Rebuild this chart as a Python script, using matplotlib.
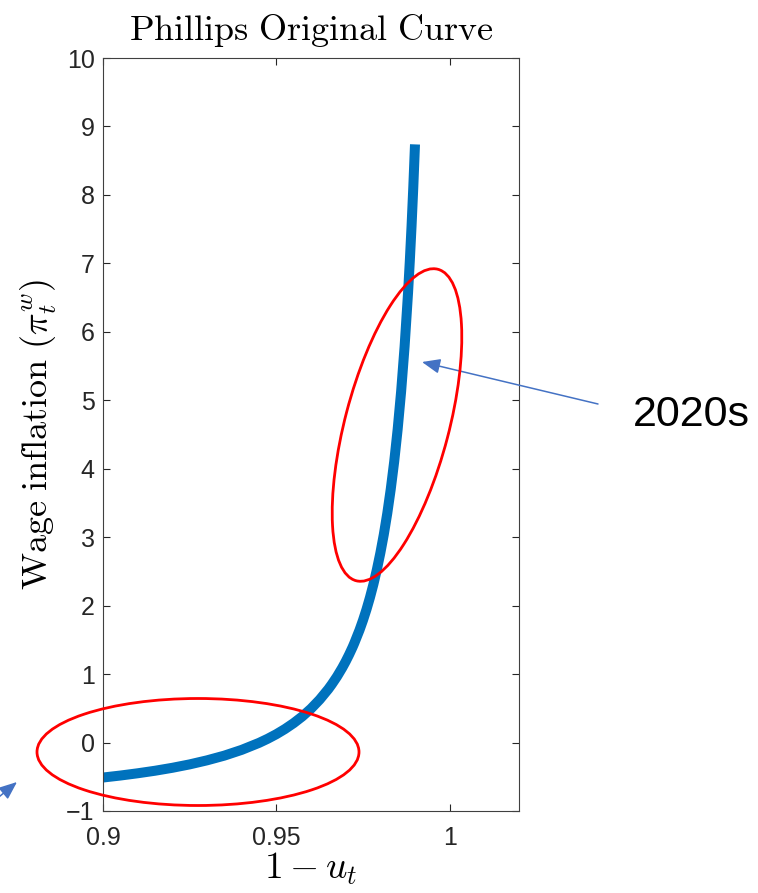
import matplotlib.pyplot as plt
from matplotlib.patches import Ellipse

plt.rcParams["mathtext.fontset"] = "cm"
plt.rcParams["font.family"] = ["Liberation Sans", "DejaVu Sans"]

# Phillips curve: x = 1 - u_t, y = wage inflation
employment = [0.900, 0.905, 0.910, 0.915, 0.920, 0.925, 0.930, 0.935, 0.940,
              0.945, 0.9475, 0.950, 0.9525, 0.955, 0.9575, 0.960, 0.9625, 0.965,
              0.966, 0.9675, 0.969, 0.970, 0.971, 0.972, 0.9725, 0.974, 0.975,
              0.976, 0.977, 0.978, 0.979, 0.980, 0.981, 0.982, 0.983, 0.984,
              0.985, 0.986, 0.987, 0.988, 0.9885, 0.989, 0.9895, 0.990]
wage_inflation = [-0.511, -0.482, -0.449, -0.412, -0.369, -0.319, -0.260, -0.191, -0.107,
                  -0.005, 0.055, 0.122, 0.198, 0.284, 0.382, 0.495, 0.627, 0.781,
                  0.851, 0.964, 1.091, 1.184, 1.285, 1.394, 1.453, 1.644, 1.787,
                  1.944, 2.118, 2.311, 2.526, 2.768, 3.039, 3.347, 3.700, 4.105,
                  4.577, 5.130, 5.786, 6.575, 7.032, 7.539, 8.104, 8.738]

x_ticks = [0.9, 0.95, 1.0]
x_tick_labels = ["0.9", "0.95", "1"]
y_ticks = list(range(-1, 11))

fig = plt.figure(figsize=(7.58, 8.93), dpi=100)
ax = fig.add_axes([103 / 758, 82 / 893, 416 / 758, 753 / 893])

ax.plot(employment, wage_inflation, color="#0072BD", lw=7.2,
        solid_capstyle="butt", solid_joinstyle="round")

ax.set_xlim(0.9, 1.02)
ax.set_ylim(-1, 10)
ax.set_xticks(x_ticks)
ax.set_xticklabels(x_tick_labels)
ax.set_yticks(y_ticks)
ax.tick_params(direction="in", top=True, right=True, length=5, width=0.8,
               labelsize=18, colors="#262626")
ax.tick_params(axis="x", pad=11)
ax.tick_params(axis="y", pad=6)
for s in ax.spines.values():
    s.set_color("#404040")
    s.set_linewidth(0.8)

ax.set_title(r"$\mathrm{Phillips\ Original\ Curve}$", fontsize=26, pad=13)
ax.set_xlabel(r"$1-u_t$", fontsize=27, labelpad=0)
ax.set_ylabel(r"$\mathrm{Wage\ inflation\ }(\pi_t^w)$", fontsize=26, labelpad=5)

# annotations drawn in figure inches (pixel / 100, y measured from bottom)
H = 893
def pt(x, y):
    return (x / 100, (H - y) / 100)

tr = fig.dpi_scale_trans
fig.patches.append(Ellipse(pt(198, 752), 3.22, 1.07, angle=0, fill=False,
                           edgecolor="red", lw=2, transform=tr))
fig.patches.append(Ellipse(pt(397, 425), 3.22, 1.04, angle=75.3, fill=False,
                           edgecolor="red", lw=2, transform=tr))

ax.annotate("", xy=pt(422, 362), xytext=pt(598, 404), xycoords=tr, textcoords=tr,
            arrowprops=dict(arrowstyle="-|>,head_length=1.1,head_width=0.45",
                            color="#4472C4", lw=1.1, shrinkA=0, shrinkB=0),
            annotation_clip=False)
ax.annotate("", xy=pt(17, 782), xytext=pt(-12, 806), xycoords=tr, textcoords=tr,
            arrowprops=dict(arrowstyle="-|>,head_length=1.1,head_width=0.45",
                            color="#4472C4", lw=1.1, shrinkA=0, shrinkB=0),
            annotation_clip=False)
fig.text(633 / 758, (H - 426) / H, "2020s", fontsize=31, color="black",
         ha="left", va="baseline")

fig.savefig("out.png", dpi=100)
